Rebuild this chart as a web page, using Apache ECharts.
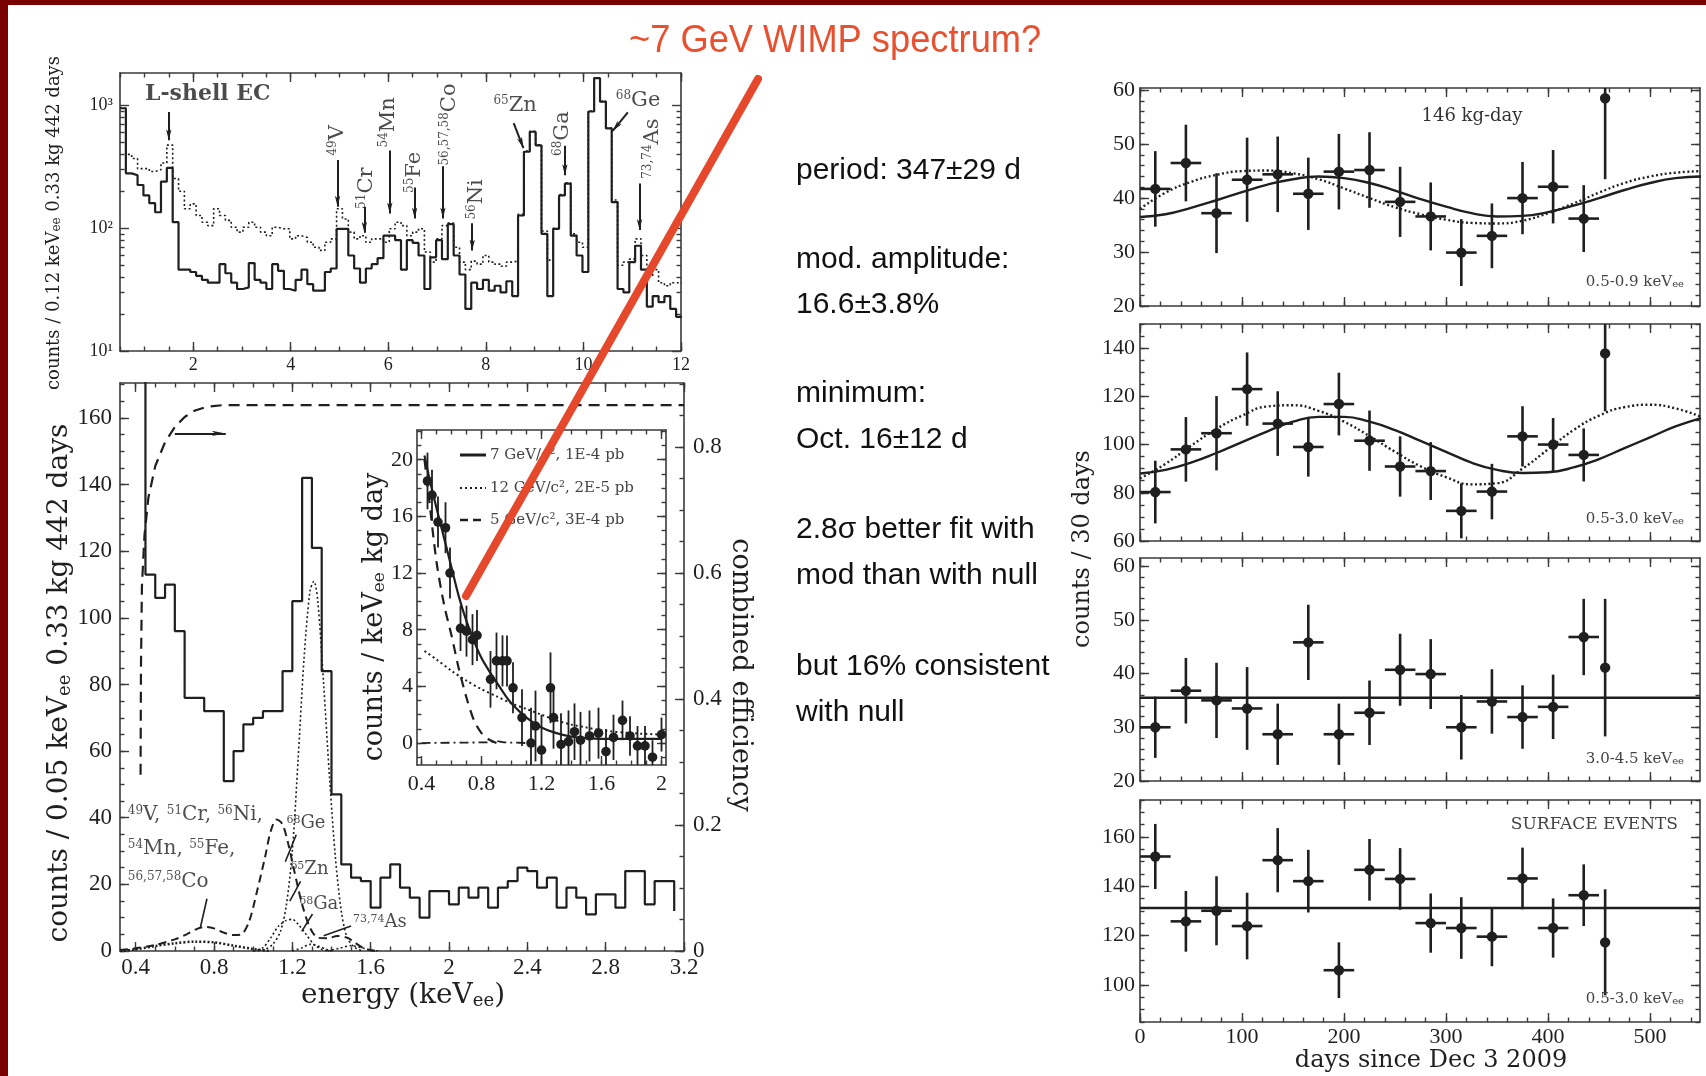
<!DOCTYPE html>
<html><head><meta charset="utf-8">
<script src="https://cdn.jsdelivr.net/npm/echarts@6/dist/echarts.min.js"></script>
<style>html,body{margin:0;padding:0;background:#fff}#c{width:1706px;height:1076px}</style>
</head><body><div id="c"></div>
<script>
// ================= DATA =================
// Top-left: energy spectrum, counts / 0.12 keV (log), 0.5-12 keV
const tlBinStart = 0.5, tlBinWidth = 0.12;
const tlSolid = [950,280,270,225,185,160,135,240,310,112,46,46,44,41,38,36,36,51,43,36,32,33,52,38,36,32,51,45,32,31,38,46,35,31,31,44,47,99,99,60,47,36,47,51,57,87,87,80,46,80,76,60,32,58,80,56,108,60,42,22,36,32,38,31,34,30,37,28,127,420,611,474,90,28,99,185,231,87,60,44,894,1670,1075,652,163,32,30,53,72,46,23,28,25,28,22,19];
const tlDotted = [950,400,370,306,306,290,300,340,476,254,200,144,158,127,112,105,144,127,116,102,93,102,112,102,93,87,102,99,99,82,87,84,77,70,66,77,82,144,119,93,82,87,77,82,82,77,99,112,105,87,93,99,64,53,82,105,110,70,53,46,54,51,60,53,51,49,53,54,130,425,615,478,95,55,100,188,235,90,77,70,900,1680,1080,655,170,50,53,56,82,60,41,46,36,34,36,36];
const tlXTicks = [2,4,6,8,10,12];
const tlYTicks = [10,100,1000];
const tlYMinor = [20,30,40,50,60,70,80,90,200,300,400,500,600,700,800,900];
const tlLabelText = ['L-shell EC','{s|49}{n|V}','{s|51}{n|Cr}','{s|54}{n|Mn}','{s|55}{n|Fe}','{s|56,57,58}{n|Co}','{s|56}{n|Ni}','{s|65}{n|Zn}','{s|68}{n|Ga}','{s|68}{n|Ge}','{s|73,74}{n|As}'];
const tlLabelAt = [[2.3,1230],[4.96,520],[5.55,212],[6.0,730],[6.54,285],[7.25,700],[7.8,172],[8.6,1000],[9.57,590],[11.12,1100],[11.42,445]];
const tlLabelRot = [0,90,90,90,90,90,90,0,90,0,90];
const tlArrows = [[[1.5,885],[1.5,520]],[[4.96,360],[4.96,150]],[[5.51,150],[5.51,92]],[[6.03,430],[6.03,132]],[[6.54,215],[6.54,120]],[[7.12,320],[7.12,120]],[[7.72,110],[7.72,66]],[[8.57,720],[8.77,450]],[[9.62,470],[9.62,270]],[[10.91,880],[10.6,620]],[[11.15,232],[11.15,97]]];

// Bottom-left: counts / 0.05 keV, 0.45-3.15 keV
const blBinStart = 0.45, blBinWidth = 0.05;
const blLead = 400;   // off-scale bin just below 0.45 keV
const blHist = [113,106,110,96,76,76,72,72,51,60,68,70,72,72,84,105,142,121,84,47,26,22,21,13,22,26,19,16,10,18,18,14,19,16,19,13,19,21,25,24,19,22,13,19,16,11,17,17,13,24,24,14,21,21];
const blTail = 12;
const blEff = [[0.425,0.28],[0.427,0.45],[0.432,0.58],[0.445,0.66],[0.465,0.72],[0.5,0.77],[0.55,0.808],[0.6,0.832],[0.65,0.848],[0.7,0.858],[0.76,0.864],[0.85,0.867],[3.2,0.867]];
const blCosmo = [[0.32,0.3],[0.4,0.8],[0.5,1.8],[0.6,3.5],[0.66,5],[0.72,6.8],[0.76,7.2],[0.8,6.8],[0.85,5.5],[0.9,4.8],[0.94,5],[0.98,9],[1.02,18],[1.06,28],[1.09,36],[1.12,39.5],[1.15,38],[1.18,32],[1.21,24],[1.25,14],[1.29,7],[1.33,4],[1.38,3.8],[1.43,4.5],[1.48,4],[1.52,2.5],[1.56,1],[1.6,0.2],[1.65,0]];
const blGe = [[1.0,0],[1.06,0.5],[1.1,2],[1.14,6],[1.17,14],[1.2,30],[1.23,58],[1.26,88],[1.29,108],[1.31,111],[1.33,105],[1.36,80],[1.39,52],[1.42,28],[1.45,12],[1.48,4],[1.52,1],[1.56,0]];
const blZn = [[1.0,0],[1.05,1],[1.09,4],[1.13,7.5],[1.17,9.2],[1.2,9.5],[1.23,8],[1.27,5],[1.31,2],[1.35,0.5],[1.4,0]];
const blGa = [[1.2,0],[1.25,1],[1.29,2],[1.33,1.5],[1.38,0.4],[1.42,0]];
const blAs = [[1.38,0],[1.44,0.8],[1.5,1.6],[1.55,1],[1.6,0.3],[1.64,0]];
const blLow = [[0.32,0],[0.4,0.5],[0.5,1.5],[0.6,2.3],[0.7,2.8],[0.8,2.6],[0.9,1.6],[1.0,0.6],[1.08,0]];
const blXTicks = [0.4,0.8,1.2,1.6,2,2.4,2.8,3.2];
const blYTicks = [0,20,40,60,80,100,120,140,160];
const effTicks = [0,0.2,0.4,0.6,0.8];
const blLabelText = ['{s|49}{n|V, }{s|51}{n|Cr, }{s|56}{n|Ni,}','{s|54}{n|Mn, }{s|55}{n|Fe,}','{s|56,57,58}{n|Co}','{t|68}{m|Ge}','{t|65}{m|Zn}','{t|68}{m|Ga}','{t|73,74}{m|As}'];
const blLabelAt = [[0.36,41],[0.36,30.7],[0.36,20.9],[1.17,38.2],[1.19,24.5],[1.235,13.9],[1.51,8.6]];
const blLeaders = [[[0.764,15.7],[0.731,7.2]],[[1.22,34.9],[1.164,26.8]],[[1.242,20.9],[1.187,15.0]],[[1.303,11.1],[1.248,5.9]],[[1.5,7.5],[1.36,4.6]]];
const effArrow = [[0.6,0.822],[0.86,0.822]];

// Inset: counts / keV kg day
const inE = [0.44,0.47,0.51,0.56,0.59,0.66,0.70,0.74,0.77,0.86,0.90,0.94,0.97,1.01,1.07,1.13,1.16,1.20,1.26,1.28,1.33,1.38,1.42,1.46,1.52,1.58,1.63,1.68,1.74,1.79,1.84,1.89,1.94,2.00];
const inV = [18.5,17.5,15.6,15.2,12.0,8.1,7.9,7.3,7.6,4.5,5.8,5.8,5.8,3.9,1.8,0.0,1.2,-0.5,3.9,1.8,-0.1,0.1,0.8,0.2,0.5,0.7,-0.6,0.4,1.6,0.5,-0.2,-0.2,-1.0,0.6];
const inErr = [2,1.8,1.8,1.8,1.8,1.6,1.8,1.8,1.8,2,2,1.8,1.8,1.8,2,2.5,2.5,2.5,2.5,2.2,2.2,2.2,2,2,1.8,1.8,1.6,1.6,1.4,1.4,1.4,1.4,1.2,1.2];
const in7 = [[0.42,20.3],[0.45,18.8],[0.5,16.6],[0.55,14.5],[0.6,12.4],[0.65,10.3],[0.7,8.6],[0.75,7.2],[0.8,6.0],[0.85,5.1],[0.9,4.3],[0.95,3.5],[1.0,2.8],[1.1,1.8],[1.2,1.1],[1.3,0.7],[1.4,0.45],[1.5,0.35],[1.6,0.3],[1.8,0.3],[2.0,0.3]];
const in12 = [[0.42,6.5],[0.5,5.9],[0.6,5.1],[0.7,4.4],[0.8,3.8],[0.9,3.3],[1.0,2.8],[1.1,2.4],[1.2,2.0],[1.3,1.6],[1.4,1.3],[1.5,1.1],[1.6,0.9],[1.8,0.7],[2.0,0.6]];
const in5 = [[0.42,20],[0.45,17.3],[0.5,12.8],[0.55,9.8],[0.6,7.6],[0.65,5.2],[0.7,3.2],[0.75,1.6],[0.8,0.7],[0.85,0.25],[0.9,0]];
const inBg = [[0.4,0],[0.85,0.05],[0.9,0.15],[0.95,0.05],[1.1,0]];
const inXTicks = [0.4,0.8,1.2,1.6,2];
const inYTicks = [0,4,8,12,16,20];

// Right: counts / 30 days vs days since Dec 3 2009
const days = [15,45,75,105,135,165,195,225,255,285,315,345,375,405,435,456];
const binHalf = [15,15,15,15,15,15,15,15,15,15,15,15,15,15,15,0];
const r1Val = [41.7,46.5,37.2,43.4,44.4,40.8,44.9,45.2,39.3,36.6,29.9,33.0,40.0,42.1,36.2,58.5];
const r1Err = [7,7.1,7.4,7.8,7,6.7,7,7,6.5,6.3,6.2,6,6.7,6.8,6.2,15];
const r2Val = [80.3,98,104.7,123,108.7,99,116.8,101.6,90.9,89,72.5,80.5,103.4,100,95.7,137.8];
const r2Err = [13,13.4,15.4,15.2,13.4,12.3,13,12.5,12.5,12,11.4,11.5,12.5,11,11,24];
const r3Val = [30,36.8,35,33.5,28.7,45.8,28.7,32.7,40.7,39.9,30,34.8,31.9,33.8,46.8,41.1];
const r3Err = [5.7,6.1,7,7.7,5.7,7,5.7,6,6.7,6.5,6,6,5.9,6,7.1,12.8];
const r4Val = [152.1,125.8,130.1,123.9,150.6,142.1,106,146.7,143,125.1,123.1,119.6,143.2,123.1,136.4,117.3];
const r4Err = [13.2,12.3,14,13.5,13,12.7,11.3,12.5,12.5,12,12.5,12,12.5,12,12.5,21.5];
const curveDays = [0,25,50,75,100,125,150,175,200,225,250,275,300,325,350,375,400,425,450,475,500,525,550];
const r1Solid = [36.5,37,38.2,39.6,41.1,42.5,43.5,44,43.7,42.8,41.4,39.8,38.4,37.2,36.6,36.7,37.4,38.6,40,41.5,42.8,43.7,44];
const r1Dotted = [38,41,43,44.3,45,45.1,44.6,43.5,41.8,40,38.3,37,36,35.4,35.3,35.8,37.2,39,41,42.8,44,44.7,45];
const r2Solid = [88,89.5,92.5,96.5,101,105.5,109.5,111.5,111.5,109.5,106,101.5,97,92.5,89.5,88.2,88.5,90.5,94,98.5,103,107.5,111];
const r2Dotted = [86,92,99.5,106.5,112,115.8,116.3,114,109.5,103.5,97,91,86.5,83.5,84,90,98,106,112,115.5,116.5,115,111.5];
const r3Flat = 35.5, r4Flat = 131.2;
const rXTicks = [0,100,200,300,400,500];

// ================= HELPERS =================
const SERIF_T = 'Liberation Serif', SERIF = 'DejaVu Serif', SANS = 'Liberation Sans';
const INK = '#1f1f1f', AX = '#3a3a3a';
const rng = (a,b,s)=>{const o=[];for(let v=a; v<=b+1e-9; v+=s) o.push(Math.round(v*1e4)/1e4);return o;};
function stepPoints(start, width, vals){
  const p=[]; vals.forEach((v,i)=>{p.push([+(start+i*width).toFixed(4),v],[+(start+(i+1)*width).toFixed(4),v]);}); return p;
}
const xAxes=[], yAxes=[];
function axisSet(list,o){
  const base=()=>Object.assign({gridIndex:o.grid,type:o.type||'value',min:o.min,max:o.max,splitLine:{show:false},silent:true,
    axisLine:{show:false,onZero:false},axisLabel:{show:false},axisTick:{show:false},axisPointer:{show:false}}, o.type==='log'?{logBase:10}:{});
  const tick=(v,len)=>({show:true,inside:true,length:len,customValues:v,lineStyle:{color:AX,width:1.4}});
  const line={show:true,onZero:false,lineStyle:{color:AX,width:1.6}};
  const lab=L=>L?Object.assign({show:true,fontFamily:SERIF_T,color:INK},L):{show:false};
  const main=list.length;
  list.push(Object.assign(base(),{position:o.pos,axisLine:line,axisTick:tick(o.majors,9),axisLabel:lab(o.label)}));
  list.push(Object.assign(base(),{position:o.pos,axisTick:tick(o.minors,4.5)}));
  const opp=list.length;
  const b1=base(), b2=base();
  if(o.oppMin!==undefined){b1.min=b2.min=o.oppMin;b1.max=b2.max=o.oppMax;}
  list.push(Object.assign(b1,{position:o.opp,axisLine:line,axisTick:tick(o.oppMajors||o.majors,9),axisLabel:lab(o.oppLabel)}));
  list.push(Object.assign(b2,{position:o.opp,axisTick:tick(o.oppMinors||o.minors,4.5)}));
  return {main,opp};
}
function errRender(lw,r){
  return function(params,api){
    const x=api.value(0), y=api.value(1), e=api.value(2), hw=api.value(3);
    const cs=params.coordSys;
    const cy=v=>Math.max(cs.y,Math.min(cs.y+cs.height,v));
    const p=api.coord([x,y]), t=api.coord([x,y+e]), b=api.coord([x,y-e]);
    const ch=[{type:'line',shape:{x1:p[0],y1:cy(t[1]),x2:p[0],y2:cy(b[1])},style:{stroke:INK,lineWidth:lw}}];
    if(hw>0){const l=api.coord([x-hw,y]), rr=api.coord([x+hw,y]);
      ch.push({type:'line',shape:{x1:l[0],y1:p[1],x2:rr[0],y2:p[1]},style:{stroke:INK,lineWidth:lw}});}
    if(p[1]>=cs.y && p[1]<=cs.y+cs.height) ch.push({type:'circle',shape:{cx:p[0],cy:p[1],r:r},style:{fill:INK}});
    return {type:'group',children:ch};
  };
}

// ================= GRIDS & AXES =================
const grids=[
  {left:120,top:73,width:561,height:278},
  {left:120,top:383,width:564,height:568},
  {left:417,top:430,width:249,height:335,show:true,backgroundColor:'#fff',borderWidth:0},
  {left:1140,top:88,width:560,height:218},
  {left:1140,top:324,width:560,height:217},
  {left:1140,top:558,width:560,height:223},
  {left:1140,top:800,width:560,height:222}
].map(g=>Object.assign({containLabel:false,outerBoundsMode:'none'},g));

const tlX=axisSet(xAxes,{grid:0,min:0.5,max:12,pos:'bottom',opp:'top',majors:tlXTicks,minors:rng(0.5,12,0.5),label:{customValues:tlXTicks,fontSize:18,margin:5}});
const supMap={1:'\u00b9',2:'\u00b2',3:'\u00b3'};
const tlY=axisSet(yAxes,{grid:0,type:'log',min:10,max:1840,pos:'left',opp:'right',majors:tlYTicks,minors:tlYMinor,label:{customValues:tlYTicks,fontSize:18,margin:7,formatter:v=>'10'+supMap[Math.round(Math.log10(v))]}});
const blX=axisSet(xAxes,{grid:1,min:0.32,max:3.2,pos:'bottom',opp:'top',majors:blXTicks,minors:rng(0.4,3.2,0.1),label:{customValues:blXTicks,fontSize:23,margin:5}});
const blY=axisSet(yAxes,{grid:1,min:0,max:170.5,pos:'left',opp:'right',majors:blYTicks,minors:rng(0,170,5),label:{customValues:blYTicks,fontSize:23,margin:8},
  oppMin:0,oppMax:0.902,oppMajors:effTicks,oppMinors:rng(0,0.9,0.05),oppLabel:{customValues:effTicks,fontSize:23,margin:9}});
const inX=axisSet(xAxes,{grid:2,min:0.37,max:2.03,pos:'bottom',opp:'top',majors:inXTicks,minors:rng(0.4,2.0,0.1),label:{customValues:inXTicks,fontSize:22,margin:8}});
const inY=axisSet(yAxes,{grid:2,min:-1.55,max:22.1,pos:'left',opp:'right',majors:inYTicks,minors:rng(-1,22,1),label:{customValues:inYTicks,fontSize:22,margin:4}});
const rPanels=[
  {min:20,max:60.4,maj:[20,30,40,50,60],mstep:2,val:r1Val,err:r1Err},
  {min:60,max:150,maj:[60,80,100,120,140],mstep:5,val:r2Val,err:r2Err},
  {min:20,max:61.5,maj:[20,30,40,50,60],mstep:2,val:r3Val,err:r3Err},
  {min:85,max:175,maj:[100,120,140,160],mstep:5,val:r4Val,err:r4Err}
];
const rX=[], rY=[];
rPanels.forEach((P,k)=>{
  rX.push(axisSet(xAxes,{grid:3+k,min:0,max:549,pos:'bottom',opp:'top',majors:rXTicks,minors:rng(0,540,20),label:k===3?{customValues:rXTicks,fontSize:22,margin:4}:null}));
  rY.push(axisSet(yAxes,{grid:3+k,min:P.min,max:P.max,pos:'left',opp:'right',majors:P.maj,minors:rng(Math.ceil(P.min/P.mstep)*P.mstep,P.max,P.mstep),label:{customValues:P.maj,fontSize:22,margin:5}}));
});

// ================= SERIES =================
const S=[];
const lineS=(xi,yi,data,style,extra)=>Object.assign({type:'line',xAxisIndex:xi,yAxisIndex:yi,data,symbol:'none',showSymbol:false,silent:true,animation:false,lineStyle:Object.assign({color:INK,width:2},style)},extra||{});
// Top-left
S.push(lineS(tlX.main,tlY.main,stepPoints(tlBinStart,tlBinWidth,tlDotted),{width:1.6,type:[2,2.5]},{z:2}));
S.push(lineS(tlX.main,tlY.main,stepPoints(tlBinStart,tlBinWidth,tlSolid),{width:2.2},{z:3}));
const supRich=(n,s)=>({s:{fontSize:s,fontFamily:SERIF,color:INK,verticalAlign:'top'},n:{fontSize:n,fontFamily:SERIF,color:INK},
  t:{fontSize:11,fontFamily:SERIF,color:INK,verticalAlign:'top'},m:{fontSize:18,fontFamily:SERIF,color:INK}});
S.push({type:'scatter',xAxisIndex:tlX.main,yAxisIndex:tlY.main,symbolSize:0,silent:true,animation:false,z:5,
  data:tlLabelText.map((t,i)=>({value:tlLabelAt[i],label:{formatter:t,rotate:tlLabelRot[i],fontSize:i===0?22:21,fontWeight:i===0?'bold':'normal'}})),
  label:{show:true,position:'inside',align:'center',verticalAlign:'middle',color:INK,fontFamily:SERIF,rich:supRich(21,12)},
  markLine:{silent:true,animation:false,symbol:['none','arrow'],symbolSize:[4,11],label:{show:false},lineStyle:{color:INK,width:2,type:'solid'},
    data:tlArrows.map(a=>[{coord:a[0]},{coord:a[1]}])}});
// Bottom-left
S.push(lineS(blX.main,blY.main,[[blBinStart,blLead]].concat(stepPoints(blBinStart,blBinWidth,blHist),[[+(blBinStart+blHist.length*blBinWidth).toFixed(4),blTail]]),{width:2.2},{z:4}));
S.push(lineS(blX.main,blY.opp,blEff,{width:2.2,type:[11,7]},{z:3,markLine:{silent:true,animation:false,symbol:['none','arrow'],symbolSize:[4,14],label:{show:false},lineStyle:{color:INK,width:2,type:'solid'},data:[[{coord:effArrow[0]},{coord:effArrow[1]}]]}}));
S.push(lineS(blX.main,blY.main,blCosmo,{width:2,type:[8,5]},{smooth:0.3,z:3}));
S.push(lineS(blX.main,blY.main,blGe,{width:1.6,type:[2,2.5]},{smooth:0.3,z:3}));
S.push(lineS(blX.main,blY.main,blZn,{width:1.6,type:[2,2.5]},{smooth:0.3,z:3}));
S.push(lineS(blX.main,blY.main,blGa,{width:1.6,type:[2,2.5]},{smooth:0.3,z:3}));
S.push(lineS(blX.main,blY.main,blAs,{width:1.6,type:[2,2.5]},{smooth:0.3,z:3}));
S.push(lineS(blX.main,blY.main,blLow,{width:2.5,type:[2,2]},{smooth:0.3,z:3}));
S.push({type:'scatter',xAxisIndex:blX.main,yAxisIndex:blY.main,symbolSize:0,silent:true,animation:false,z:5,
  data:blLabelText.map((t,i)=>({value:blLabelAt[i],label:{formatter:t}})),
  label:{show:true,position:'inside',align:'left',verticalAlign:'middle',color:INK,fontFamily:SERIF,rich:supRich(20,12)},
  markLine:{silent:true,animation:false,symbol:'none',label:{show:false},lineStyle:{color:INK,width:1.6,type:'solid'},
    data:blLeaders.map(a=>[{coord:a[0]},{coord:a[1]}])}});
// Inset
S.push(lineS(inX.main,inY.main,inBg,{width:1.8,type:[9,4,2,4]},{z:3}));
S.push(lineS(inX.main,inY.main,in5,{width:2.2,type:[10,7]},{smooth:0.3,z:3}));
S.push(lineS(inX.main,inY.main,in12,{width:2,type:[2,3]},{smooth:0.3,z:3}));
S.push(lineS(inX.main,inY.main,in7,{width:2.2},{smooth:0.3,z:3}));
S.push({type:'custom',xAxisIndex:inX.main,yAxisIndex:inY.main,silent:true,animation:false,z:6,encode:{x:0,y:1},
  renderItem:errRender(1.8,4.8),data:inE.map((e,i)=>[e,inV[i],inErr[i],0])});
// Right panels
const rCurves=[[r1Solid,r1Dotted],[r2Solid,r2Dotted],null,null];
rPanels.forEach((P,k)=>{
  const xi=rX[k].main, yi=rY[k].main;
  if(rCurves[k]){
    S.push(lineS(xi,yi,curveDays.map((d,i)=>[d,rCurves[k][1][i]]),{width:2.4,type:[2,2.5]},{smooth:true,z:3}));
    S.push(lineS(xi,yi,curveDays.map((d,i)=>[d,rCurves[k][0][i]]),{width:2.4},{smooth:true,z:3}));
  } else {
    const f=k===2?r3Flat:r4Flat;
    S.push(lineS(xi,yi,[[0,f],[549,f]],{width:2.4},{z:3}));
  }
  S.push({type:'custom',xAxisIndex:xi,yAxisIndex:yi,silent:true,animation:false,z:6,encode:{x:0,y:1},
    renderItem:errRender(2.6,5.2),data:days.map((d,i)=>[d,P.val[i],P.err[i],binHalf[i]])});
});

// ================= GRAPHIC (titles, annotations) =================
const T=(o)=>{const st=Object.assign({fill:INK,fontFamily:SERIF},o.style);
  if(st.align){st.textAlign=st.align;} if(st.verticalAlign){st.textVerticalAlign=st.verticalAlign;}
  return Object.assign({type:'text',silent:true,z:50},o,{style:st});};
const subRich=(f,s)=>({e:{fontSize:s,fontFamily:SERIF,fill:INK,verticalAlign:'bottom'},n:{fontSize:f,fontFamily:SERIF,fill:INK}});
const G=[
  {type:'rect',shape:{x:0,y:0,width:1706,height:5},style:{fill:'#780000'},z:60,silent:true},
  {type:'rect',shape:{x:0,y:0,width:8,height:1076},style:{fill:'#780000'},z:60,silent:true},
  T({x:629,y:41,scaleX:0.93,style:{text:'~7 GeV WIMP spectrum?',fontFamily:SANS,fontSize:39,fill:'#e8502f',align:'left',verticalAlign:'middle'}}),
  {type:'line',shape:{x1:758,y1:79,x2:466,y2:596},style:{stroke:'#e5482b',lineWidth:8,lineCap:'round'},z:70,silent:true},
  // middle notes
  ...[['period: 347\u00b129 d',171],['mod. amplitude:',260],['16.6\u00b13.8%',305],['minimum:',394],['Oct. 16\u00b112 d',440],['2.8\u03c3 better fit with',530],['mod than with null',576],['but 16% consistent',667],['with null',713]]
    .map(([t,y])=>T({x:796,y,style:{text:t,fontFamily:SANS,fontSize:30,fill:'#111',align:'left',verticalAlign:'middle'}})),
  // axis titles
  T({x:54,y:223,rotation:Math.PI/2,style:{text:'{n|counts / 0.12 keV}{e|ee}{n| 0.33 kg 442 days}',rich:subRich(18,12),align:'center',verticalAlign:'middle'}}),
  T({x:60,y:683,rotation:Math.PI/2,style:{text:'{n|counts / 0.05 keV}{e|ee}{n| 0.33 kg 442 days}',rich:subRich(28,18),align:'center',verticalAlign:'middle'}}),
  T({x:403,y:996,style:{text:'{n|energy (keV}{e|ee}{n|)}',rich:subRich(28,18),align:'center',verticalAlign:'middle'}}),
  T({x:740,y:675,rotation:-Math.PI/2,style:{text:'combined efficiency',fontSize:27,align:'center',verticalAlign:'middle'}}),
  T({x:375,y:617,rotation:Math.PI/2,style:{text:'{n|counts / keV}{e|ee}{n| kg day}',rich:subRich(27,17),align:'center',verticalAlign:'middle'}}),
  T({x:1083,y:549,rotation:Math.PI/2,style:{text:'counts / 30 days',fontSize:24,align:'center',verticalAlign:'middle'}}),
  T({x:1431,y:1061,style:{text:'days since Dec 3 2009',fontSize:24,align:'center',verticalAlign:'middle'}}),
  // right panel annotations
  T({x:1472,y:116,style:{text:'146 kg-day',fontSize:18,fill:'#333',align:'center',verticalAlign:'middle'}}),
  ...[282,519,759,999].map((y,i)=>T({x:1684,y,style:{text:'{n|'+['0.5-0.9','0.5-3.0','3.0-4.5','0.5-3.0'][i]+' keV}{e|ee}',rich:{n:{fontSize:15,fontFamily:SERIF,fill:'#444'},e:{fontSize:10,fontFamily:SERIF,fill:'#444',verticalAlign:'bottom'}},align:'right',verticalAlign:'middle'}})),
  T({x:1678,y:825,style:{text:'SURFACE EVENTS',fontSize:17,fill:'#444',align:'right',verticalAlign:'middle'}}),
  // inset legend
  {type:'line',shape:{x1:460,y1:455,x2:486,y2:455},style:{stroke:INK,lineWidth:3},z:50,silent:true},
  {type:'line',shape:{x1:460,y1:488,x2:486,y2:488},style:{stroke:INK,lineWidth:2,lineDash:[2,3]},z:50,silent:true},
  {type:'line',shape:{x1:460,y1:520,x2:486,y2:520},style:{stroke:INK,lineWidth:2.5,lineDash:[8,5]},z:50,silent:true},
  T({x:490,y:455,style:{text:'7 GeV/c\u00b2, 1E-4 pb',fontSize:15,fill:'#444',align:'left',verticalAlign:'middle'}}),
  T({x:490,y:488,style:{text:'12 GeV/c\u00b2, 2E-5 pb',fontSize:15,fill:'#444',align:'left',verticalAlign:'middle'}}),
  T({x:490,y:520,style:{text:'5 GeV/c\u00b2, 3E-4 pb',fontSize:15,fill:'#444',align:'left',verticalAlign:'middle'}})
];

const chart=echarts.init(document.getElementById('c'),null,{renderer:'canvas'});
chart.setOption({
  animation:false,backgroundColor:'#fff',
  textStyle:{fontFamily:SERIF_T,color:INK},
  grid:grids,xAxis:xAxes,yAxis:yAxes,series:S,graphic:{elements:G}
});
</script></body></html>
